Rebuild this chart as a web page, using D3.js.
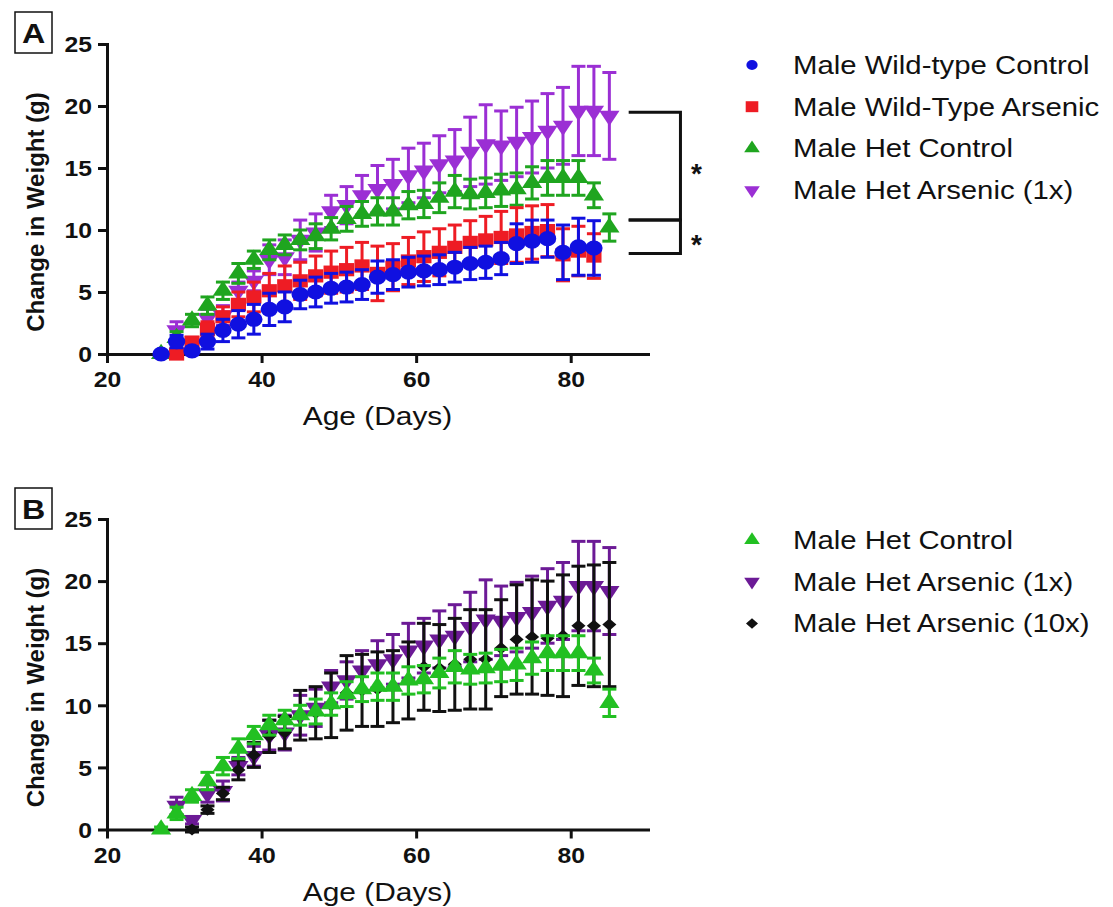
<!DOCTYPE html>
<html><head><meta charset="utf-8">
<script src="https://cdn.jsdelivr.net/npm/d3@7"></script>
<style>body{margin:0;background:#fff}svg{display:block}</style>
</head><body>
<svg id="chart" width="1113" height="907"></svg>
<script>
// ---------------- DATA ----------------
const xTicks = [20, 40, 60, 80];
const yTicks = [0, 5, 10, 15, 20, 25];

const wtControlDays = [27,29,31,33,35,37,39,41,43,45,47,49,51,53,55,57,59,61,63,65,67,69,71,73,75,77,79,81,83];
const wtControlMean = [0,1.0,0.25,1.0,1.9,2.4,2.8,3.6,3.8,4.8,5.0,5.3,5.4,5.6,6.2,6.4,6.6,6.7,6.8,7.0,7.3,7.4,7.7,8.9,9.1,9.3,8.2,8.65,8.55];
const wtControlSem  = [0.1,0.5,0.3,0.6,0.9,1.1,1.2,1.3,1.2,1.15,1.2,1.2,1.2,1.2,1.3,1.2,1.2,1.2,1.2,1.2,1.3,1.3,1.3,1.6,1.7,1.5,2.2,2.3,2.2];

const wtArsenicDays = [29,31,33,35,37,39,41,43,45,47,49,51,53,55,57,59,61,63,65,67,69,71,73,75,77,79,81,83];
const wtArsenicMean = [0,0.95,2.0,3.0,4.0,4.6,5.1,5.5,5.9,6.3,6.6,6.8,7.1,6.5,7.0,7.5,7.85,8.2,8.6,9.0,9.2,9.4,9.6,9.8,9.95,8.0,8.3,7.9];
const wtArsenicSem  = [0.1,0.4,0.6,0.8,1.0,1.2,1.4,1.6,1.5,1.6,1.7,1.8,1.9,2.2,1.9,1.9,2.0,1.9,1.8,1.75,1.9,2.1,2.2,2.15,2.1,2.1,2.0,1.8];

const hetControlDays = [27,29,31,33,35,37,39,41,43,45,47,49,51,53,55,57,59,61,63,65,67,69,71,73,75,77,79,81,83,85];
const hetControlMean = [0,1.3,2.7,3.9,5.1,6.5,7.6,8.4,8.8,9.2,9.5,10.1,10.9,11.3,11.5,11.5,12.0,12.1,12.6,13.1,12.9,13.0,13.2,13.3,13.8,14.2,14.2,14.2,12.8,10.2];
const hetControlSem  = [0.2,0.5,0.5,0.7,0.7,0.8,0.7,0.8,0.8,0.8,1.0,0.9,1.0,1.0,1.1,1.1,1.1,1.1,1.2,1.3,1.2,1.2,1.3,1.3,1.3,1.4,1.4,1.4,1.0,1.1];

const hetArsenic1Days = [29,31,33,35,37,39,41,43,45,47,49,51,53,55,57,59,61,63,65,67,69,71,73,75,77,79,81,83,85];
const hetArsenic1Mean = [1.9,0.75,2.9,3.1,5.1,5.9,7.6,7.8,9.2,9.8,11.5,12.0,12.8,13.3,13.7,14.4,14.8,15.3,15.6,16.3,16.9,16.8,17.1,17.5,18.0,18.4,19.6,19.6,19.2];
const hetArsenic1Sem  = [0.7,0.3,0.7,0.8,0.7,0.8,1.2,1.4,1.6,1.5,1.3,1.5,1.6,1.9,2.0,2.2,2.2,2.3,2.5,2.8,3.2,2.8,2.8,2.9,3.0,3.1,3.6,3.6,3.5];

const hetArsenic10Days = [31,33,35,37,39,41,43,45,47,49,51,53,55,57,59,61,63,65,67,69,71,73,75,77,79,81,83,85];
const hetArsenic10Mean = [0,1.6,2.9,4.8,6.0,7.5,7.8,9.2,9.4,10.0,11.0,11.2,11.3,11.5,12.0,13.1,13.0,13.3,13.7,13.7,14.6,15.3,15.5,15.4,15.6,16.4,16.4,16.5];
const hetArsenic10Sem  = [0.2,0.3,0.5,0.8,1.0,1.3,1.3,2.0,2.1,2.6,3.0,2.9,3.0,2.9,3.1,3.5,3.5,3.7,4.0,4.0,3.9,4.4,4.6,4.6,4.9,4.8,4.9,5.0];

const legendA = ["Male Wild-type Control", "Male Wild-Type Arsenic", "Male Het Control", "Male Het Arsenic (1x)"];
const legendB = ["Male Het Control", "Male Het Arsenic (1x)", "Male Het Arsenic (10x)"];
const brackets = [[19.5, 10.8], [10.8, 8.1]];

// ---------------- DRAW ----------------
const FONT = "'Liberation Sans', Arial, Helvetica, sans-serif";
const SX = 1.15;
const svg = d3.select('#chart');
svg.append('rect').attr('width',1113).attr('height',907).attr('fill','#fff');

const x = d3.scaleLinear().domain([20, 90]).range([107, 648]);
const yA = d3.scaleLinear().domain([0, 25]).range([354, 44]);
const yB = d3.scaleLinear().domain([0, 25]).range([829.5, 519]);

const C = {blue:'#1010e0', red:'#ee1c24', greenA:'#1fa51f', greenB:'#22c022', purpleA:'#9b2fd4', purpleB:'#6c1a96', black:'#111'};

const triDown = {draw(ctx, size){ const s=Math.sqrt(size*4/Math.sqrt(3)); const h=s*Math.sqrt(3)/2;
  ctx.moveTo(-s/2,-h/3); ctx.lineTo(s/2,-h/3); ctx.lineTo(0,2*h/3); ctx.closePath(); }};
const triUp = {draw(ctx, size){ const s=Math.sqrt(size*4/Math.sqrt(3)); const h=s*Math.sqrt(3)/2;
  ctx.moveTo(-s/2,h/3); ctx.lineTo(s/2,h/3); ctx.lineTo(0,-2*h/3); ctx.closePath(); }};
const diamond = {draw(ctx, size){ const r=Math.sqrt(size/2);
  ctx.moveTo(0,-r); ctx.lineTo(r,0); ctx.lineTo(0,r); ctx.lineTo(-r,0); ctx.closePath(); }};

function makeSeries(days, mean, sem){ return days.map((d,i)=>({d, m:mean[i], e:sem[i]})); }

function drawSeries(g, y, data, color, type, size){
  const s = g.append('g');
  const cap = 7;
  data.forEach(p=>{
    const y1 = y(p.m + p.e), y0 = y(p.m - p.e), cx = x(p.d);
    s.append('line').attr('x1',cx).attr('x2',cx).attr('y1',y1).attr('y2',y0).attr('stroke',color).attr('stroke-width',3);
    s.append('line').attr('x1',cx-cap).attr('x2',cx+cap).attr('y1',y1).attr('y2',y1).attr('stroke',color).attr('stroke-width',3);
    s.append('line').attr('x1',cx-cap).attr('x2',cx+cap).attr('y1',y0).attr('y2',y0).attr('stroke',color).attr('stroke-width',3);
  });
  s.selectAll('path.mk').data(data).join('path').attr('class','mk')
    .attr('d', d3.symbol().type(type).size(size))
    .attr('transform', p=>`translate(${x(p.d)},${y(p.m)}) scale(${SX},1)`)
    .attr('fill', color);
}

function drawAxes(y, offset){
  const gx = svg.append('g').attr('transform',`translate(0,${y(0)})`)
    .call(d3.axisBottom(x).tickValues(xTicks).tickSize(9).tickSizeOuter(0).tickPadding(9));
  const gy = svg.append('g').attr('transform',`translate(${x(20)},0)`)
    .call(d3.axisLeft(y).tickValues(yTicks).tickSize(9).tickSizeOuter(0).tickPadding(4));
  [gx, gy].forEach(g=>{
    g.select('.domain').attr('stroke','#111').attr('stroke-width',3).attr('stroke-linecap','square');
    g.selectAll('.tick line').attr('stroke','#111').attr('stroke-width',3);
    g.selectAll('.tick text').attr('fill','#111').style('font-family',FONT).style('font-size','21.5px').style('font-weight','bold')
      .attr('transform',`scale(${SX},1)`);
  });
  gy.selectAll('.tick text').attr('dy','0.36em');
  svg.append('text').attr('transform',`translate(377.5,${425+offset}) scale(${SX},1)`).attr('text-anchor','middle')
    .style('font-family',FONT).style('font-size','26px').attr('fill','#111').text('Age (Days)');
  svg.append('text').attr('transform',`translate(44,${212+offset}) rotate(-90)`).attr('text-anchor','middle')
    .style('font-family',FONT).style('font-size','24px').style('font-weight','bold').attr('fill','#111').text('Change in Weight (g)');
}

function panelLabel(letter, top){
  svg.append('rect').attr('x',15).attr('y',top).attr('width',37).attr('height',41).attr('fill','none').attr('stroke','#111').attr('stroke-width',1.5);
  svg.append('text').attr('transform',`translate(33.5,${top+31}) scale(${SX},1)`).attr('text-anchor','middle')
    .style('font-family',FONT).style('font-size','28px').style('font-weight','bold').attr('fill','#111').text(letter);
}

function legend(items, top){
  items.forEach((it,i)=>{
    const cy = top + i*41.7;
    svg.append('path').attr('d', d3.symbol().type(it.type).size(it.size)).attr('fill', it.color)
      .attr('transform',`translate(752,${cy}) scale(${SX},1)`);
    svg.append('text').attr('transform',`translate(793,${cy+9}) scale(${SX},1)`)
      .style('font-family',FONT).style('font-size','25.5px').attr('fill','#111').text(it.label);
  });
}

// ---- Panel A ----
drawAxes(yA, 0);
const gA = svg.append('g');
drawSeries(gA, yA, makeSeries(hetArsenic1Days, hetArsenic1Mean, hetArsenic1Sem), C.purpleA, triDown, 135);
drawSeries(gA, yA, makeSeries(hetControlDays, hetControlMean, hetControlSem), C.greenA, triUp, 135);
drawSeries(gA, yA, makeSeries(wtArsenicDays, wtArsenicMean, wtArsenicSem), C.red, d3.symbolSquare, 175);
drawSeries(gA, yA, makeSeries(wtControlDays, wtControlMean, wtControlSem), C.blue, d3.symbolCircle, 180);
panelLabel('A', 12);
legend([
  {label:legendA[0], color:C.blue, type:d3.symbolCircle, size:75},
  {label:legendA[1], color:C.red, type:d3.symbolSquare, size:120},
  {label:legendA[2], color:C.greenA, type:triUp, size:80},
  {label:legendA[3], color:C.purpleA, type:triDown, size:80}
], 65);

const bx0 = x(87.5), bx1 = x(94.2);
brackets.forEach((b,i)=>{
  const yt = yA(b[0]), yb = yA(b[1]);
  svg.append('path').attr('d',`M${bx0},${yt}H${bx1}V${yb}H${bx0}`).attr('fill','none')
    .attr('stroke','#111').attr('stroke-width',3).attr('stroke-linejoin','miter');
  svg.append('text').attr('x', bx1+16).attr('y', yA((b[0]+b[1])/2)+17).attr('text-anchor','middle')
    .style('font-family',FONT).style('font-size','28px').style('font-weight','bold').attr('fill','#111').text('*');
});

// ---- Panel B ----
drawAxes(yB, 475.5);
const gB = svg.append('g');
drawSeries(gB, yB, makeSeries(hetArsenic1Days, hetArsenic1Mean, hetArsenic1Sem), C.purpleB, triDown, 135);
drawSeries(gB, yB, makeSeries(hetArsenic10Days, hetArsenic10Mean, hetArsenic10Sem), C.black, diamond, 75);
drawSeries(gB, yB, makeSeries(hetControlDays, hetControlMean, hetControlSem), C.greenB, triUp, 135);
panelLabel('B', 488);
legend([
  {label:legendB[0], color:C.greenB, type:triUp, size:80},
  {label:legendB[1], color:C.purpleB, type:triDown, size:80},
  {label:legendB[2], color:C.black, type:diamond, size:55}
], 540);
</script>
</body></html>
